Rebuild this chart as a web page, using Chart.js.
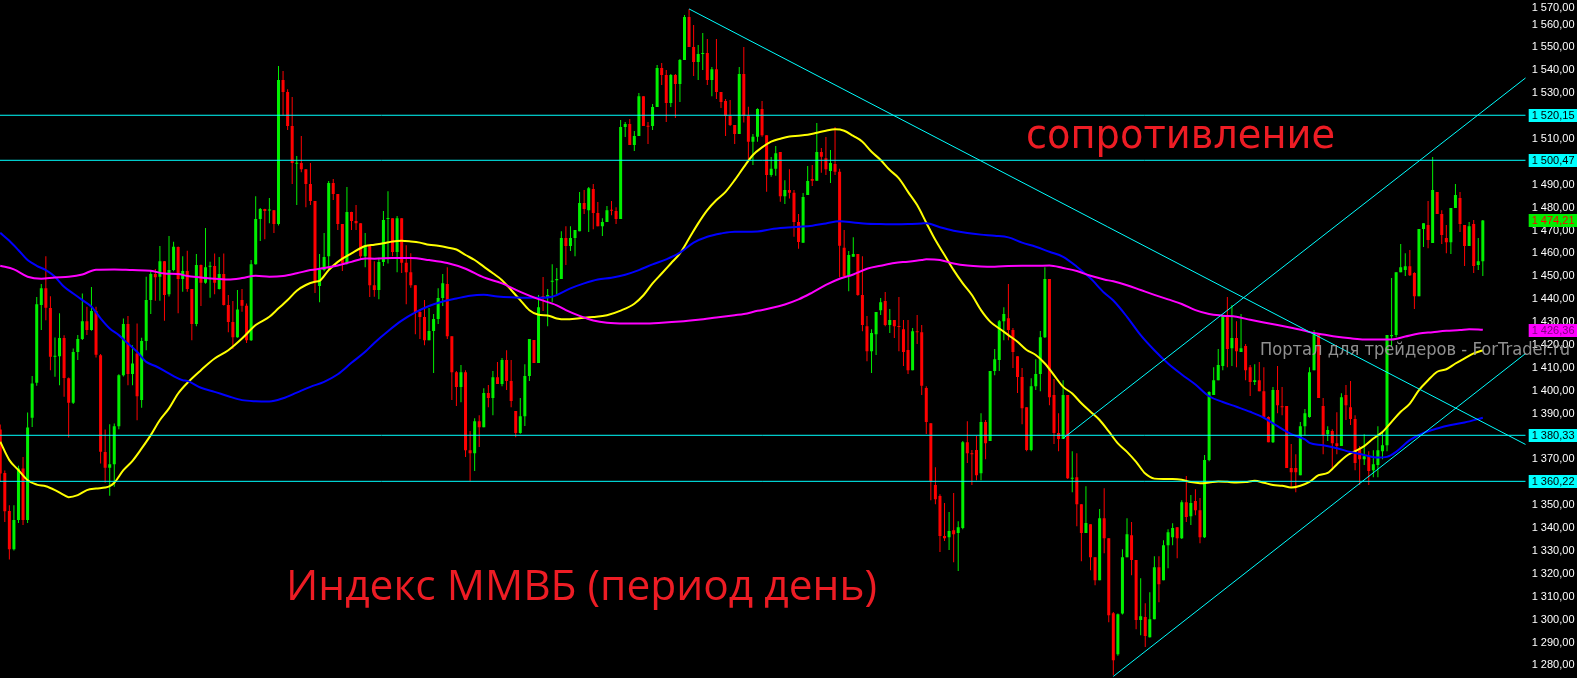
<!DOCTYPE html>
<html>
<head>
<meta charset="utf-8">
<title>Индекс ММВБ</title>
<script src="https://cdn.jsdelivr.net/npm/chart.js@4.4.1/dist/chart.umd.min.js"></script>
<style>
  html, body { margin: 0; padding: 0; background: #000; overflow: hidden; }
</style>
</head>
<body>
<canvas id="mmvbChart" width="1577" height="678"></canvas>
<script>
// Дневные свечи (O/H/L/C), слева направо
const opens = [
  1382.9, 1363.9, 1347.3, 1330.6, 1343.3, 1365.8, 1343.3, 1388.0, 1403.3, 1437.2,
  1444.6, 1435.9, 1414.6, 1414.9, 1422.8, 1405.3, 1394.5, 1416.7, 1422.4, 1430.1,
  1426.3, 1434.6, 1415.3, 1373.0, 1366.1, 1367.7, 1384.3, 1406.6, 1428.9, 1407.1,
  1416.1, 1395.7, 1421.5, 1439.4, 1450.8, 1449.6, 1456.4, 1442.0, 1452.5, 1462.6,
  1448.6, 1452.1, 1444.2, 1428.9, 1454.7, 1447.0, 1454.0, 1454.3, 1444.2, 1450.8,
  1437.2, 1429.8, 1423.2, 1439.4, 1436.9, 1421.9, 1455.1, 1474.8, 1479.2, 1478.5,
  1478.7, 1472.6, 1535.5, 1530.3, 1515.4, 1499.0, 1499.3, 1496.6, 1490.1, 1482.7,
  1445.5, 1452.5, 1458.6, 1490.5, 1485.7, 1472.6, 1455.6, 1477.9, 1473.9, 1473.0,
  1458.6, 1463.0, 1445.9, 1443.8, 1456.0, 1474.8, 1475.2, 1460.4, 1475.2, 1455.7,
  1451.6, 1445.9, 1434.2, 1432.0, 1421.9, 1425.9, 1431.1, 1440.3, 1446.4, 1423.6,
  1407.9, 1401.4, 1407.9, 1373.8, 1372.5, 1386.5, 1383.9, 1398.8, 1396.6, 1405.7,
  1402.7, 1413.2, 1404.0, 1390.9, 1381.3, 1388.7, 1406.2, 1422.0, 1411.9, 1441.2,
  1440.3, 1447.4, 1448.1, 1448.6, 1466.5, 1463.0, 1466.5, 1469.5, 1481.8, 1478.7,
  1487.9, 1477.4, 1471.7, 1473.5, 1478.7, 1478.3, 1474.8, 1515.0, 1516.3, 1507.1,
  1511.1, 1528.5, 1515.4, 1515.4, 1523.7, 1540.8, 1537.7, 1525.5, 1537.7, 1533.8,
  1544.3, 1563.1, 1550.0, 1543.4, 1546.9, 1547.3, 1535.5, 1540.3, 1530.3, 1526.4,
  1519.8, 1515.9, 1512.0, 1538.2, 1519.8, 1508.6, 1510.8, 1522.9, 1511.4, 1494.0,
  1496.8, 1504.1, 1484.8, 1487.5, 1486.3, 1473.5, 1464.5, 1485.3, 1492.3, 1491.5,
  1504.1, 1501.4, 1495.8, 1498.8, 1495.5, 1462.3, 1449.9, 1458.3, 1459.5, 1441.6,
  1428.0, 1417.1, 1424.5, 1435.0, 1439.0, 1428.5, 1430.7, 1427.8, 1426.7, 1417.6,
  1408.8, 1425.8, 1425.4, 1401.0, 1385.6, 1358.6, 1353.8, 1336.3, 1335.8, 1338.9,
  1337.6, 1339.8, 1377.3, 1372.5, 1373.9, 1363.8, 1386.1, 1377.8, 1408.4, 1413.2,
  1430.2, 1431.5, 1426.3, 1414.9, 1405.8, 1392.6, 1373.9, 1401.8, 1407.1, 1423.2,
  1448.6, 1397.9, 1381.3, 1378.7, 1397.9, 1361.3, 1362.0, 1350.2, 1337.6, 1341.5,
  1327.1, 1317.0, 1344.1, 1335.4, 1302.6, 1284.7, 1302.5, 1327.1, 1336.7, 1325.8,
  1299.6, 1300.9, 1292.1, 1300.0, 1322.7, 1317.0, 1332.3, 1335.8, 1340.2, 1335.4,
  1351.1, 1345.0, 1351.6, 1347.6, 1335.8, 1369.5, 1397.9, 1404.4, 1410.6, 1432.4,
  1418.4, 1422.8, 1416.7, 1419.3, 1410.1, 1403.6, 1404.4, 1399.6, 1388.3, 1377.3,
  1400.1, 1392.9, 1393.1, 1366.0, 1366.0, 1362.9, 1384.3, 1388.3, 1408.8, 1424.5,
  1393.1, 1380.8, 1382.2, 1376.9, 1375.6, 1397.9, 1392.6, 1387.4, 1374.3, 1369.9,
  1371.2, 1365.1, 1367.3, 1373.4, 1376.0, 1423.6, 1424.1, 1451.6, 1452.5, 1454.2,
  1451.2, 1441.1, 1470.5, 1472.2, 1464.3, 1486.6, 1477.0, 1466.5, 1464.7, 1479.6,
  1484.0, 1472.2, 1463.0, 1472.6, 1454.7, 1456.4
];
const highs = [
  1385.0, 1365.0, 1349.8, 1349.8, 1367.0, 1370.9, 1390.3, 1406.2, 1440.8, 1446.4,
  1458.6, 1441.1, 1423.1, 1433.6, 1424.0, 1405.6, 1418.3, 1424.1, 1442.3, 1436.5,
  1445.1, 1436.5, 1415.8, 1382.9, 1385.2, 1385.5, 1407.0, 1431.4, 1432.4, 1419.7,
  1429.2, 1423.0, 1449.6, 1452.5, 1453.0, 1463.0, 1456.5, 1467.4, 1464.9, 1462.8,
  1458.6, 1461.0, 1444.2, 1459.5, 1455.0, 1470.9, 1456.1, 1459.8, 1458.2, 1459.8,
  1441.6, 1439.0, 1443.8, 1444.2, 1437.9, 1456.9, 1484.8, 1479.6, 1479.3, 1484.0,
  1478.8, 1541.7, 1539.5, 1531.5, 1528.1, 1502.3, 1511.1, 1496.6, 1499.3, 1482.7,
  1459.5, 1468.7, 1491.4, 1492.3, 1485.7, 1472.6, 1488.8, 1478.0, 1480.9, 1473.0,
  1468.7, 1463.0, 1456.4, 1457.9, 1478.3, 1487.0, 1475.2, 1476.1, 1475.2, 1463.4,
  1459.9, 1445.9, 1435.5, 1439.4, 1435.9, 1433.3, 1444.6, 1450.8, 1453.8, 1423.6,
  1408.4, 1411.0, 1408.8, 1382.2, 1387.8, 1389.1, 1400.9, 1402.3, 1408.4, 1412.3,
  1414.1, 1417.5, 1413.2, 1390.9, 1396.6, 1411.4, 1422.4, 1422.0, 1441.6, 1449.5,
  1444.2, 1455.1, 1453.4, 1469.5, 1471.7, 1471.7, 1470.0, 1486.6, 1487.5, 1488.8,
  1490.1, 1482.2, 1475.2, 1480.5, 1482.7, 1480.0, 1518.1, 1517.2, 1518.5, 1513.3,
  1529.9, 1528.5, 1517.2, 1525.1, 1542.1, 1543.0, 1539.9, 1538.2, 1538.2, 1544.7,
  1564.0, 1566.6, 1559.6, 1550.8, 1556.1, 1553.5, 1541.2, 1553.5, 1530.3, 1527.2,
  1526.8, 1515.9, 1541.2, 1550.0, 1523.9, 1512.0, 1523.2, 1526.4, 1511.4, 1501.9,
  1506.7, 1504.1, 1491.8, 1496.6, 1487.5, 1477.0, 1486.2, 1498.0, 1498.4, 1516.8,
  1505.8, 1510.6, 1505.0, 1515.0, 1496.8, 1470.0, 1460.8, 1466.9, 1459.5, 1458.6,
  1432.4, 1426.7, 1434.2, 1440.3, 1442.9, 1435.5, 1430.7, 1440.7, 1430.7, 1430.7,
  1427.2, 1432.9, 1428.5, 1401.8, 1385.6, 1366.4, 1354.6, 1350.7, 1346.8, 1355.1,
  1342.8, 1377.8, 1386.5, 1373.9, 1380.0, 1390.0, 1387.0, 1408.4, 1418.0, 1430.7,
  1436.3, 1446.4, 1427.2, 1414.9, 1409.7, 1392.6, 1405.3, 1413.6, 1425.9, 1453.8,
  1448.6, 1404.9, 1390.0, 1404.4, 1397.9, 1373.4, 1372.5, 1350.2, 1358.1, 1341.5,
  1327.1, 1348.1, 1357.2, 1335.4, 1303.1, 1302.5, 1330.6, 1344.1, 1342.4, 1325.8,
  1317.9, 1307.0, 1311.8, 1327.5, 1327.5, 1334.5, 1339.3, 1341.9, 1340.2, 1352.0,
  1362.5, 1354.2, 1356.8, 1352.9, 1371.7, 1399.6, 1410.1, 1418.0, 1432.4, 1440.7,
  1437.2, 1430.2, 1433.3, 1420.2, 1411.0, 1411.4, 1412.3, 1410.1, 1388.7, 1401.4,
  1410.6, 1401.4, 1393.1, 1376.5, 1372.1, 1386.1, 1391.8, 1410.1, 1426.3, 1424.5,
  1396.6, 1384.3, 1383.0, 1390.4, 1398.7, 1402.3, 1404.0, 1389.1, 1375.6, 1380.8,
  1373.4, 1373.8, 1384.3, 1382.2, 1424.1, 1449.0, 1451.6, 1463.9, 1459.9, 1461.3,
  1451.6, 1470.5, 1473.0, 1482.7, 1501.9, 1486.6, 1478.7, 1472.2, 1479.6, 1490.1,
  1486.6, 1472.2, 1473.5, 1474.4, 1466.5, 1474.4
];
const lows = [
  1360.0, 1342.5, 1326.1, 1330.0, 1342.0, 1341.1, 1342.0, 1384.0, 1402.0, 1426.3,
  1430.6, 1408.8, 1405.9, 1402.2, 1397.2, 1379.4, 1394.0, 1413.2, 1422.0, 1424.1,
  1426.0, 1414.3, 1368.0, 1359.6, 1353.9, 1357.8, 1383.0, 1406.0, 1402.2, 1402.2,
  1386.9, 1392.4, 1417.5, 1433.3, 1439.1, 1439.1, 1430.4, 1441.0, 1452.0, 1433.7,
  1443.0, 1443.0, 1421.9, 1428.0, 1436.8, 1446.5, 1440.4, 1442.0, 1444.0, 1437.0,
  1425.4, 1418.0, 1423.0, 1434.3, 1420.6, 1421.5, 1455.0, 1465.2, 1466.0, 1473.0,
  1468.7, 1472.0, 1520.2, 1513.7, 1490.1, 1480.9, 1495.3, 1480.0, 1480.9, 1442.5,
  1438.5, 1452.0, 1452.5, 1483.1, 1470.0, 1452.1, 1455.0, 1470.0, 1470.0, 1456.9,
  1453.8, 1440.7, 1440.9, 1439.8, 1454.3, 1455.4, 1458.6, 1451.6, 1451.2, 1437.6,
  1444.8, 1424.5, 1422.4, 1419.7, 1421.8, 1407.5, 1428.9, 1436.8, 1422.4, 1395.7,
  1393.1, 1394.8, 1370.8, 1360.3, 1364.7, 1375.2, 1383.9, 1392.6, 1389.1, 1402.7,
  1401.8, 1400.1, 1392.6, 1379.5, 1381.0, 1384.4, 1404.0, 1411.9, 1411.9, 1434.6,
  1428.0, 1438.5, 1442.0, 1448.6, 1454.7, 1460.8, 1458.6, 1469.5, 1477.0, 1469.1,
  1470.4, 1471.7, 1467.4, 1473.5, 1476.5, 1472.6, 1474.8, 1510.6, 1507.1, 1504.5,
  1511.1, 1515.4, 1507.6, 1513.7, 1523.7, 1533.4, 1517.2, 1523.7, 1518.9, 1525.9,
  1544.3, 1550.0, 1537.3, 1535.5, 1539.9, 1533.4, 1528.5, 1527.2, 1523.3, 1511.1,
  1515.4, 1507.6, 1512.0, 1517.0, 1500.9, 1498.4, 1508.6, 1510.8, 1486.7, 1493.3,
  1493.7, 1482.4, 1481.4, 1483.8, 1467.1, 1461.8, 1464.5, 1485.3, 1489.2, 1491.5,
  1495.0, 1494.0, 1490.5, 1494.0, 1449.4, 1449.4, 1443.3, 1458.3, 1441.3, 1425.8,
  1412.7, 1407.5, 1415.4, 1432.9, 1428.0, 1425.0, 1422.8, 1417.1, 1410.6, 1407.1,
  1408.8, 1420.2, 1397.9, 1380.9, 1352.0, 1350.2, 1329.3, 1334.1, 1330.2, 1324.9,
  1321.0, 1339.3, 1368.2, 1358.6, 1360.7, 1360.7, 1369.9, 1377.8, 1406.6, 1408.4,
  1421.9, 1421.9, 1409.7, 1398.8, 1385.2, 1373.4, 1373.4, 1400.1, 1399.6, 1422.8,
  1393.5, 1376.5, 1373.4, 1378.7, 1361.2, 1355.5, 1340.6, 1325.3, 1337.6, 1321.4,
  1314.8, 1317.0, 1328.8, 1298.7, 1275.5, 1284.0, 1302.0, 1327.0, 1319.2, 1295.6,
  1293.0, 1287.8, 1292.0, 1300.0, 1307.4, 1317.0, 1322.3, 1332.3, 1326.6, 1335.0,
  1342.4, 1341.1, 1345.4, 1333.2, 1335.5, 1369.0, 1397.9, 1404.4, 1408.8, 1410.1,
  1410.6, 1410.1, 1416.7, 1404.4, 1397.5, 1402.3, 1399.6, 1388.3, 1377.3, 1377.0,
  1390.0, 1389.1, 1366.0, 1357.7, 1355.5, 1362.9, 1380.4, 1388.0, 1408.8, 1396.6,
  1372.1, 1377.8, 1365.5, 1372.1, 1375.6, 1387.0, 1384.8, 1365.1, 1358.6, 1367.3,
  1358.6, 1362.0, 1362.0, 1369.9, 1373.4, 1419.3, 1423.2, 1451.6, 1449.9, 1449.9,
  1435.5, 1441.1, 1462.6, 1462.1, 1464.3, 1477.0, 1463.9, 1459.9, 1459.5, 1479.6,
  1469.1, 1454.3, 1463.0, 1451.2, 1452.5, 1449.9
];
const closes = [
  1363.6, 1347.2, 1330.6, 1343.3, 1365.8, 1343.3, 1383.7, 1403.0, 1437.6, 1444.6,
  1436.0, 1414.6, 1414.9, 1422.8, 1405.4, 1394.5, 1416.7, 1422.4, 1430.1, 1426.3,
  1434.6, 1415.5, 1373.1, 1366.1, 1367.7, 1384.3, 1406.6, 1428.9, 1407.1, 1411.7,
  1397.4, 1421.5, 1439.4, 1450.8, 1449.4, 1456.4, 1441.6, 1452.5, 1462.7, 1448.6,
  1452.1, 1444.2, 1428.9, 1454.7, 1447.0, 1453.8, 1454.2, 1447.0, 1450.8, 1437.2,
  1429.8, 1423.2, 1435.3, 1436.9, 1421.9, 1455.1, 1474.8, 1479.2, 1478.3, 1478.8,
  1472.6, 1535.5, 1530.3, 1515.4, 1499.3, 1499.2, 1496.6, 1490.1, 1482.7, 1447.7,
  1452.5, 1458.2, 1490.5, 1485.7, 1472.6, 1455.6, 1477.9, 1473.9, 1473.0, 1458.6,
  1463.0, 1445.9, 1443.8, 1456.0, 1474.4, 1475.0, 1460.4, 1475.2, 1455.7, 1451.6,
  1445.9, 1434.2, 1432.0, 1421.9, 1425.9, 1431.1, 1440.3, 1446.8, 1423.6, 1407.9,
  1401.4, 1407.9, 1373.8, 1372.5, 1386.5, 1383.9, 1398.8, 1396.6, 1405.7, 1402.7,
  1413.2, 1404.0, 1395.3, 1381.3, 1388.7, 1406.2, 1422.4, 1411.9, 1436.3, 1440.3,
  1441.6, 1447.7, 1448.6, 1466.5, 1463.0, 1466.5, 1470.0, 1481.8, 1479.2, 1488.3,
  1477.4, 1471.7, 1473.5, 1478.7, 1478.4, 1474.8, 1515.0, 1516.3, 1507.1, 1511.1,
  1528.5, 1515.4, 1515.1, 1523.7, 1540.8, 1537.7, 1525.5, 1537.7, 1533.8, 1544.3,
  1563.1, 1550.0, 1543.4, 1546.9, 1547.3, 1535.5, 1540.3, 1530.3, 1525.9, 1519.8,
  1515.9, 1512.0, 1538.2, 1519.8, 1508.6, 1510.8, 1522.9, 1511.4, 1494.0, 1496.8,
  1503.6, 1484.8, 1487.5, 1486.3, 1473.5, 1464.8, 1484.4, 1491.4, 1491.5, 1504.1,
  1502.0, 1496.6, 1499.3, 1495.5, 1463.1, 1449.9, 1459.1, 1459.5, 1441.6, 1428.5,
  1417.1, 1425.0, 1434.2, 1438.5, 1428.5, 1430.7, 1428.0, 1427.6, 1416.7, 1408.8,
  1425.8, 1425.4, 1402.0, 1386.1, 1360.3, 1352.4, 1336.3, 1335.4, 1338.5, 1337.1,
  1340.2, 1377.3, 1372.5, 1372.1, 1362.9, 1386.1, 1376.9, 1408.4, 1413.6, 1430.2,
  1433.3, 1426.3, 1416.7, 1405.8, 1392.2, 1373.9, 1401.8, 1407.1, 1423.2, 1448.6,
  1397.0, 1381.3, 1378.7, 1397.9, 1361.6, 1361.6, 1350.2, 1337.6, 1342.0, 1327.1,
  1317.0, 1344.1, 1335.4, 1301.7, 1282.1, 1302.2, 1327.1, 1337.1, 1325.8, 1299.6,
  1301.3, 1292.6, 1300.0, 1322.7, 1315.3, 1332.3, 1338.0, 1339.8, 1335.4, 1351.1,
  1344.6, 1350.7, 1347.6, 1335.8, 1369.5, 1399.2, 1404.4, 1411.0, 1432.4, 1418.0,
  1422.8, 1417.1, 1418.4, 1408.8, 1403.6, 1404.4, 1399.6, 1388.3, 1377.3, 1400.1,
  1393.5, 1392.6, 1366.0, 1364.2, 1364.2, 1384.3, 1390.0, 1407.9, 1424.5, 1396.6,
  1380.4, 1382.6, 1376.9, 1375.6, 1397.0, 1393.5, 1387.4, 1368.2, 1369.9, 1371.2,
  1364.7, 1367.7, 1373.8, 1376.0, 1424.1, 1424.1, 1451.6, 1453.8, 1454.2, 1450.3,
  1441.1, 1470.5, 1473.0, 1465.6, 1487.5, 1477.0, 1467.8, 1464.7, 1479.6, 1485.3,
  1472.6, 1463.0, 1471.7, 1454.3, 1456.4, 1474.2
];

// Скользящие средние: [номер бара, значение]
const maFast = [
  [0,1377.5],[2,1369.5],[4,1365.1],[6,1360.7],[8,1358.8],[10,1358.1],[12,1356.4],[14,1354.2],[15,1353.3],
  [17,1354.2],[19,1356.4],[21,1357.1],[23,1357.5],[24,1358.1],[25,1359.6],[27,1365.1],[29,1369.2],[31,1374.6],
  [33,1380.4],[35,1387.0],[37,1392.1],[39,1398.6],[41,1403.2],[44,1408.8],[47,1413.9],[50,1417.5],[53,1422.6],
  [56,1428.5],[59,1432.1],[61,1435.8],[63,1439.4],[65,1443.5],[67,1446.0],[69,1447.4],[70,1447.8],[72,1452.5],
  [74,1456.1],[77,1459.8],[80,1463.0],[82,1463.6],[84,1464.2],[86,1465.0],[88,1465.3],[90,1465.0],[92,1464.5],
  [94,1463.6],[96,1463.1],[98,1462.4],[100,1461.5],[102,1459.1],[104,1456.9],[106,1454.0],[108,1451.1],[110,1448.1],
  [112,1443.8],[114,1439.4],[116,1435.0],[118,1433.0],[120,1432.7],[122,1431.4],[124,1431.0],[127,1431.5],[130,1432.0],
  [133,1432.8],[136,1434.8],[139,1437.8],[141,1441.5],[143,1446.7],[145,1451.0],[147,1455.4],[149,1459.8],[151,1466.3],
  [153,1472.9],[155,1478.7],[157,1483.1],[159,1486.7],[161,1491.8],[163,1497.5],[165,1502.8],[167,1506.1],[169,1508.6],
  [171,1509.9],[173,1510.9],[175,1511.2],[177,1511.6],[179,1512.5],[181,1513.4],[183,1514.0],[185,1513.4],[187,1511.1],
  [189,1508.6],[191,1504.2],[193,1500.6],[195,1496.2],[197,1492.6],[199,1486.7],[201,1480.9],[203,1473.2],[205,1465.6],
  [207,1459.1],[209,1452.5],[211,1446.7],[213,1441.6],[215,1435.0],[217,1430.0],[219,1427.0],[221,1424.1],[223,1421.2],
  [225,1417.6],[227,1415.4],[229,1411.7],[231,1406.6],[233,1401.5],[235,1398.6],[237,1394.3],[239,1390.6],[241,1387.0],
  [243,1382.0],[245,1376.8],[247,1373.1],[249,1368.7],[251,1363.6],[253,1361.4],[255,1361.2],[257,1361.2],[259,1360.9],
  [261,1359.9],[263,1359.4],[265,1359.7],[267,1360.2],[269,1360.0],[271,1359.7],[273,1359.9],[275,1360.5],[277,1359.6],
  [279,1358.6],[281,1358.3],[283,1357.5],[285,1358.3],[287,1360.0],[289,1362.9],[291,1363.9],[293,1367.6],[295,1371.2],
  [297,1373.4],[299,1375.6],[301,1378.9],[303,1381.8],[305,1386.2],[307,1390.6],[309,1394.2],[311,1400.1],[313,1404.4],
  [315,1408.1],[317,1409.2],[319,1411.7],[321,1413.9],[323,1416.1],[325,1417.5]
];
const maMid = [
  [0,1468.8],[2,1465.3],[4,1461.2],[6,1456.9],[8,1454.4],[10,1452.5],[12,1449.6],[14,1445.2],[16,1442.3],
  [18,1439.4],[20,1436.5],[22,1431.4],[24,1427.0],[26,1424.1],[28,1420.4],[30,1416.8],[32,1412.4],[34,1410.6],
  [36,1408.5],[38,1406.2],[40,1404.4],[41,1404.1],[44,1401.1],[47,1399.3],[50,1397.4],[53,1395.7],[56,1395.2],
  [59,1395.1],[62,1396.5],[65,1399.0],[68,1401.5],[71,1403.7],[74,1407.0],[77,1412.0],[80,1416.8],[82,1420.7],
  [85,1425.8],[88,1430.4],[91,1434.0],[94,1436.8],[97,1438.8],[100,1440.1],[103,1441.3],[106,1441.7],[109,1441.0],
  [112,1440.6],[115,1440.4],[118,1440.4],[121,1440.9],[122,1441.6],[125,1444.5],[128,1446.7],[131,1448.4],[134,1449.2],
  [137,1450.5],[140,1452.5],[143,1455.0],[146,1457.2],[149,1460.1],[152,1464.5],[155,1467.1],[158,1468.5],[161,1469.3],
  [163,1469.3],[166,1469.4],[169,1470.4],[172,1471.0],[175,1471.4],[178,1471.9],[181,1472.9],[184,1473.8],[187,1473.3],
  [190,1472.7],[193,1472.6],[196,1472.5],[199,1472.6],[202,1472.9],[203,1473.0],[206,1471.2],[209,1469.7],[212,1468.7],
  [215,1468.0],[218,1467.5],[221,1466.8],[224,1464.5],[227,1462.7],[230,1460.5],[233,1458.3],[236,1454.0],[239,1448.9],
  [242,1442.6],[244,1439.2],[247,1432.1],[250,1424.1],[253,1417.5],[256,1411.7],[259,1406.9],[262,1402.5],[265,1397.4],
  [268,1394.9],[271,1392.8],[274,1390.6],[277,1388.0],[280,1384.3],[283,1380.8],[286,1378.5],[287,1377.0],[290,1376.0],
  [293,1374.7],[296,1373.0],[299,1371.7],[302,1370.6],[304,1370.9],[306,1373.1],[309,1378.2],[312,1381.4],[315,1383.3],
  [318,1384.8],[321,1385.9],[325,1388.0]
];
const maSlow = [
  [0,1454.4],[3,1452.8],[6,1449.6],[9,1448.7],[12,1449.3],[15,1449.6],[18,1450.6],[21,1452.7],[25,1452.8],
  [29,1452.5],[33,1452.2],[36,1451.0],[39,1450.8],[41,1449.9],[44,1449.3],[47,1448.7],[50,1448.4],[53,1449.0],
  [56,1450.0],[59,1449.6],[62,1449.9],[65,1451.1],[68,1452.5],[71,1453.4],[74,1454.5],[77,1456.1],[80,1457.6],
  [82,1457.5],[86,1457.8],[90,1457.8],[94,1456.9],[98,1455.6],[102,1453.1],[106,1449.3],[110,1446.7],[114,1443.0],
  [118,1439.8],[122,1437.1],[124,1435.0],[127,1432.5],[130,1430.5],[133,1429.5],[137,1429.2],[141,1429.2],[145,1429.5],
  [149,1430.0],[153,1430.8],[157,1431.8],[161,1432.8],[163,1433.3],[166,1434.7],[169,1435.9],[172,1437.5],[175,1439.7],
  [178,1442.7],[181,1446.0],[184,1448.7],[187,1450.6],[190,1453.1],[193,1454.4],[196,1455.6],[199,1456.2],[202,1456.9],
  [203,1457.2],[206,1456.9],[209,1455.4],[212,1454.5],[215,1454.1],[218,1454.0],[221,1454.3],[224,1454.4],[227,1454.4],
  [230,1454.5],[233,1453.4],[236,1452.1],[239,1450.0],[242,1448.4],[244,1447.6],[247,1445.9],[250,1443.8],[253,1441.7],
  [256,1439.7],[259,1437.7],[262,1435.0],[265,1433.3],[268,1432.6],[271,1432.1],[274,1430.8],[277,1429.6],[280,1428.5],
  [283,1427.3],[286,1426.0],[287,1425.4],[290,1424.4],[293,1423.4],[296,1422.7],[299,1422.2],[302,1422.2],[305,1422.2],
  [308,1423.5],[311,1424.8],[314,1425.4],[317,1426.0],[320,1426.3],[322,1426.7],[325,1426.4]
];

// Уровни и трендовые линии
const levels = [1520.15, 1500.47, 1380.33, 1360.22];
const trendLines = [
  [[151, 1566.6], [334.4, 1376.3]],  // нисходящая
  [[233, 1379.0], [334.4, 1536.5]],  // канал, верх
  [[244, 1275.0], [334.4, 1416.1]]   // канал, низ
];
const lastPrice = 1474.21;
const slowMaPrice = 1426.36;

// Шкалы
const yMin = 1274.3, yMax = 1570.5, yStep = 10;
const xMin = -0.05, xMax = 334.4;

const GREEN = '#00f000';
const RED = '#ff0000';
const CYAN = '#00ffff';
const TEXT_RED = '#ed1c24';

const bars = opens.map((o, i) => i);
const candleColors = bars.map(i => closes[i] >= opens[i] ? GREEN : RED);

function toPoints(arr) {
  return arr.map(p => ({ x: p[0], y: p[1] }));
}

function fmtPrice(v) {
  const parts = v.toFixed(2).split('.');
  return parts[0].replace(/\B(?=(\d{3})+(?!\d))/g, ' ') + ',' + parts[1];
}

const datasets = [];

levels.forEach(v => {
  datasets.push({
    type: 'line',
    data: [{ x: xMin, y: v }, { x: xMax, y: v }],
    borderColor: CYAN,
    borderWidth: 1,
    pointRadius: 0,
    order: 1,
  });
});

trendLines.forEach(t => {
  datasets.push({
    type: 'line',
    data: toPoints(t),
    borderColor: CYAN,
    borderWidth: 1,
    pointRadius: 0,
    order: 1,
  });
});

[[maSlow, '#ff00ff'], [maMid, '#0000ff'], [maFast, '#ffff00']].forEach(([arr, color]) => {
  datasets.push({
    type: 'line',
    data: toPoints(arr),
    borderColor: color,
    borderWidth: 2,
    pointRadius: 0,
    cubicInterpolationMode: 'monotone',
    order: 2,
  });
});

// тени свечей
datasets.push({
  type: 'bar',
  data: bars.map(i => ({ x: i, y: [lows[i], highs[i]] })),
  backgroundColor: candleColors,
  barThickness: 1,
  inflateAmount: 0,
  grouped: false,
  order: 4,
});
// тела свечей
datasets.push({
  type: 'bar',
  data: bars.map(i => ({ x: i, y: [opens[i], closes[i]] })),
  backgroundColor: candleColors,
  barThickness: 3,
  inflateAmount: 0,
  minBarLength: 1,
  grouped: false,
  order: 3,
});

// Надписи, ценовая шкала и метки уровней
const overlayPlugin = {
  id: 'overlay',
  afterDraw(chart) {
    const ctx = chart.ctx;
    const yScale = chart.scales.y;
    const area = chart.chartArea;
    const labelX = area.right + 6;

    ctx.save();
    ctx.font = '11px "Liberation Sans", Arial, sans-serif';
    ctx.textAlign = 'left';
    ctx.textBaseline = 'middle';

    ctx.fillStyle = '#ffffff';
    yScale.ticks.forEach(t => {
      if (Math.abs(t.value % yStep) > 1e-6) return;
      const py = Math.max(yScale.getPixelForValue(t.value), 7.5);
      ctx.fillText(fmtPrice(t.value), labelX, py + 0.5);
    });

    function tag(value, bg, fg) {
      const py = Math.round(yScale.getPixelForValue(value));
      ctx.fillStyle = bg;
      ctx.fillRect(area.right + 3, py - 6, chart.width - area.right - 3, 13);
      ctx.fillStyle = fg;
      ctx.fillText(fmtPrice(value), labelX, py + 0.5);
    }
    levels.forEach(v => tag(v, CYAN, '#000000'));
    tag(lastPrice, '#00ee00', '#ff0000');
    tag(slowMaPrice, '#ff00ff', '#800080');

    function fitText(text, font, x, baseline, width, color) {
      ctx.font = font;
      const w = ctx.measureText(text).width;
      ctx.save();
      ctx.translate(x, baseline);
      ctx.scale(width / w, 1);
      ctx.textAlign = 'left';
      ctx.textBaseline = 'alphabetic';
      ctx.fillStyle = color;
      ctx.fillText(text, 0, 0);
      ctx.restore();
    }
    fitText('сопротивление', '40px "DejaVu Sans", sans-serif', 1026, 148, 309, TEXT_RED);
    fitText('Индекс ММВБ (период день)', '42px "Open Sans", sans-serif', 286, 600, 591, TEXT_RED);
    fitText('Портал для трейдеров - ForTrader.ru', '17px "DejaVu Sans", sans-serif', 1260, 355, 310, 'rgba(160,160,160,0.9)');
    ctx.restore();
  }
};

const bgPlugin = {
  id: 'bg',
  beforeDraw(chart) {
    const ctx = chart.ctx;
    ctx.save();
    ctx.fillStyle = '#000000';
    ctx.fillRect(0, 0, chart.width, chart.height);
    ctx.restore();
  }
};

const chart = new Chart(document.getElementById('mmvbChart').getContext('2d'), {
  type: 'bar',
  data: { datasets },
  options: {
    responsive: false,
    devicePixelRatio: 1,
    animation: false,
    layout: { padding: 0 },
    plugins: {
      legend: { display: false },
      tooltip: { enabled: false },
    },
    scales: {
      x: {
        type: 'linear',
        min: xMin,
        max: xMax,
        offset: false,
        display: false,
      },
      y: {
        type: 'linear',
        position: 'right',
        min: yMin,
        max: yMax,
        grid: { display: false },
        border: { display: false },
        ticks: { display: false, stepSize: yStep, includeBounds: false },
        afterFit(scale) {
          scale.width = 51.3;
          scale.paddingTop = 0;
          scale.paddingBottom = 0;
        },
      },
    },
  },
  plugins: [bgPlugin, overlayPlugin],
});
</script>
</body>
</html>
